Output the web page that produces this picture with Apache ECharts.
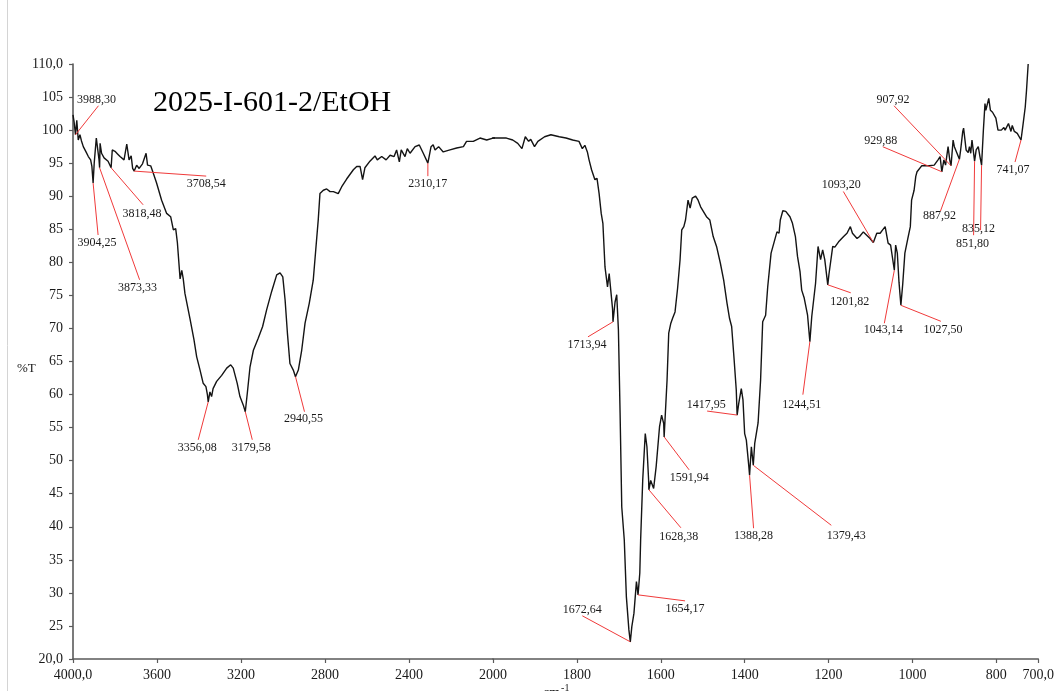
<!DOCTYPE html>
<html>
<head>
<meta charset="utf-8">
<title>2025-I-601-2/EtOH IR spectrum</title>
<script src="https://cdn.jsdelivr.net/npm/echarts@6/dist/echarts.min.js"></script>
<style>
  html, body { margin: 0; padding: 0; background: #fff; }
  #chart { width: 1057px; height: 691px; }
</style>
</head>
<body>
<div id="chart"></div>
<script>
// Sample name shown on the plot
const sampleName = '2025-I-601-2/EtOH';

// Axis ticks (wavenumber scale doubles below 2000 cm-1)
const xTicksHigh = [4000, 3600, 3200, 2800, 2400, 2000];
const xTicksLow = [1800, 1600, 1400, 1200, 1000, 800, 700];
const yTicks = [20, 25, 30, 35, 40, 45, 50, 55, 60, 65, 70, 75, 80, 85, 90, 95, 100, 105, 110];

// Transmittance trace: [wavenumber cm-1, %T]
const trace = [
  [4000, 102.3], [3995, 101.3], [3982, 101.5], [3975, 98.5], [3967, 99.3], [3960, 98.4],
  [3951, 97.5], [3938, 96.7], [3927, 96.0], [3916, 95.5], [3910, 94.5], [3899, 95.0],
  [3889, 98.8], [3882, 97.0], [3876, 95.5], [3871, 98.0], [3864, 96.5], [3852, 95.8],
  [3843, 96.0], [3833, 95.3], [3813, 97.0], [3800, 96.8], [3788, 96.4], [3776, 96.0],
  [3757, 95.5], [3744, 97.9], [3733, 95.5], [3723, 96.1], [3716, 94.2], [3697, 94.7],
  [3685, 94.2], [3669, 94.9], [3652, 96.5], [3645, 94.7], [3630, 94.6], [3618, 93.5],
  [3602, 92.0], [3578, 89.4], [3554, 87.4], [3535, 86.9], [3522, 84.9], [3511, 85.1],
  [3503, 83.0], [3490, 77.5], [3482, 78.8], [3475, 77.5], [3467, 75.3], [3443, 71.5],
  [3424, 68.3], [3411, 65.7], [3395, 63.7], [3380, 61.7], [3367, 61.2], [3360, 60.0],
  [3348, 60.4], [3340, 59.7], [3333, 60.9], [3316, 62.0], [3292, 62.9], [3268, 64.0],
  [3249, 64.5], [3237, 64.0], [3218, 61.7], [3205, 59.7], [3189, 58.4], [3170, 60.2],
  [3157, 64.2], [3141, 66.7], [3118, 68.5], [3097, 70.3], [3078, 72.8], [3054, 75.6],
  [3030, 78.1], [3014, 78.4], [3001, 77.8], [2990, 74.3], [2979, 69.3], [2967, 64.7],
  [2951, 63.7], [2927, 63.7], [2911, 66.7], [2895, 70.8], [2875, 73.8], [2870, 73.5],
  [2856, 77.3], [2844, 81.9], [2832, 86.5], [2824, 90.4], [2808, 90.9], [2792, 91.1],
  [2776, 90.7], [2760, 90.7], [2737, 90.4], [2721, 91.4], [2697, 92.6], [2665, 94.0],
  [2649, 94.5], [2633, 94.5], [2621, 92.5], [2610, 94.3], [2586, 95.3], [2562, 96.1],
  [2551, 95.5], [2530, 96.0], [2509, 95.5], [2490, 96.2], [2471, 96.0], [2459, 97.0],
  [2446, 95.2], [2437, 97.0], [2419, 96.0], [2408, 97.2], [2395, 96.5], [2371, 97.5],
  [2351, 97.75], [2332, 96.5], [2295, 97.5], [2285, 97.8], [2276, 97.0], [2259, 97.5],
  [2237, 96.7], [2205, 97.0], [2173, 97.3], [2141, 97.5], [2126, 98.3], [2094, 98.3],
  [2062, 98.8], [2030, 98.5], [2000, 98.8], [1984, 98.8], [1968, 98.8], [1953, 98.5],
  [1941, 98.0], [1931, 97.2], [1923, 99.0], [1915, 98.3], [1910, 98.6], [1901, 97.5],
  [1893, 98.3], [1877, 99.0], [1862, 99.3], [1842, 99.0], [1826, 98.8], [1810, 98.5],
  [1795, 98.3], [1787, 97.2], [1781, 97.7], [1775, 96.7], [1771, 95.5], [1765, 94.0],
  [1762, 94.0], [1757, 92.5], [1752, 92.7], [1747, 90.4], [1742, 87.4], [1738, 85.9],
  [1733, 79.3], [1727, 76.3], [1723, 78.3], [1719, 78.3], [1715, 73.0], [1709, 74.0],
  [1705, 75.1], [1701, 69.8], [1697, 57.2], [1693, 43.0], [1687, 38.0], [1682, 29.4],
  [1676, 24.4], [1669, 24.9], [1664, 26.9], [1658, 31.7], [1650, 33.0], [1648, 38.0],
  [1643, 47.1], [1637, 54.1], [1633, 52.1], [1629, 47.1], [1624, 47.0], [1621, 46.8],
  [1617, 45.8], [1611, 49.1], [1603, 55.1], [1598, 56.9], [1593, 55.6], [1585, 62.2],
  [1581, 69.3], [1576, 70.8], [1572, 71.5], [1566, 72.5], [1560, 76.0], [1554, 80.4],
  [1550, 84.9], [1545, 85.4], [1541, 86.4], [1535, 89.4], [1530, 88.2], [1525, 89.7],
  [1517, 90.0], [1511, 89.4], [1505, 88.4], [1501, 88.3], [1491, 86.9], [1483, 86.4],
  [1475, 83.9], [1467, 82.4], [1458, 79.9], [1450, 77.3], [1442, 73.8], [1436, 71.5],
  [1431, 70.3], [1425, 65.2], [1420, 60.7], [1414, 58.7], [1408, 60.9], [1404, 59.2],
  [1400, 54.1], [1396, 53.1], [1390, 49.1], [1384, 52.1], [1376, 52.6], [1368, 55.7],
  [1362, 62.2], [1357, 71.0], [1353, 70.8], [1350, 72.0], [1345, 76.3], [1337, 81.4],
  [1334, 81.6], [1323, 84.6], [1318, 84.4], [1315, 86.4], [1309, 87.8], [1302, 87.7],
  [1299, 87.8], [1292, 86.9], [1286, 85.9], [1279, 83.9], [1274, 80.9], [1268, 78.6],
  [1264, 75.8], [1258, 74.6], [1254, 74.8], [1250, 72.0], [1240, 71.8], [1236, 71.5],
  [1231, 76.8], [1225, 82.4], [1219, 80.4], [1214, 81.9], [1209, 80.4], [1199, 78.2],
  [1190, 82.4], [1185, 82.3], [1176, 83.1], [1164, 83.9], [1156, 84.4], [1148, 85.4],
  [1143, 84.4], [1132, 83.6], [1126, 83.9], [1117, 84.6], [1109, 84.1], [1101, 83.6],
  [1085, 84.4], [1077, 84.4], [1071, 84.9], [1065, 85.4], [1058, 82.9], [1052, 82.6],
  [1040, 82.6], [1036, 81.4], [1032, 77.0], [1023, 76.8], [1018, 81.4], [1011, 83.6],
  [1005, 85.4], [1002, 89.4], [996, 90.9], [992, 93.0], [989, 93.7], [978, 94.6],
  [960, 94.6], [948, 94.7], [939, 95.5], [934, 96.0], [925, 95.5], [921, 94.7],
  [915, 97.5], [911, 95.5], [903, 98.5], [900, 97.5], [897, 97.7], [885, 97.0],
  [880, 99.8], [878, 100.3], [872, 97.0], [867, 96.6], [864, 97.5], [861, 96.5],
  [858, 98.5], [848, 97.0], [843, 97.5], [839, 96.0], [831, 99.8], [827, 104.0],
  [825, 103.0], [823, 103.5], [818, 104.8], [814, 103.0], [809, 102.7], [801, 101.8],
  [796, 100.0], [788, 100.0], [782, 100.4], [779, 100.0], [771, 101.0], [765, 99.8],
  [762, 100.7], [757, 99.8], [750, 99.5], [737, 100.5], [731, 103.5], [728, 106.0],
  [724, 110.0]
];

// Picked bands: [wavenumber cm-1, %T]
const peaks = [
  [3988.30, 99.3], [3904.25, 92.0], [3873.33, 94.3], [3818.48, 94.3], [3708.54, 93.8],
  [3356.08, 58.9], [3179.58, 57.4], [2940.55, 62.7], [2310.17, 95.0],
  [1713.94, 71.0], [1672.64, 22.6], [1654.17, 29.7], [1628.38, 45.6], [1591.94, 53.6],
  [1417.95, 56.9], [1388.28, 47.8], [1379.43, 49.3], [1244.51, 68.0], [1201.82, 76.6],
  [1093.20, 83.0], [1043.14, 78.8], [1027.50, 73.5], [929.88, 93.7], [907.92, 94.6],
  [887.92, 95.6], [851.80, 95.3], [835.12, 94.7], [741.07, 98.5]
];

// Callout geometry per band, in pixels from the band point:
// [leader end dx, leader end dy, label dx, label dy]
const calloutLayout = [
  [23, -29, 21, -35], [5, 52, 4, 60], [40, 112, 38, 120], [32, 37, 31, 46], [72, 5, 72, 13],
  [-10, 38, -11, 46], [7, 28, 6, 36], [9, 35, 8, 42], [0, 13, 0, 21],
  [-25, 15, -26, 23], [-48, -26, -48, -32], [47, 6, 47, 14], [32, 38, 30, 47], [25, 33, 25, 41],
  [-30, -4, -31, -10], [4, 53, 4, 61], [78, 60, 93, 71], [-7, 53, -8, 63], [23, 8, 22, 17],
  [-30, -51, -32, -58], [-10, 53, -11, 60], [40, 16, 42, 25], [-59, -25, -61, -31], [-57, -60, -58, -66],
  [-19, 52, -20, 57], [-1, 74, -2, 83], [-1, 65, -3, 64], [-6, 22, -8, 30]
];

// Full spectrum = trace with the picked band points merged in, high to low wavenumber
const spectrum = trace.concat(peaks).sort((a, b) => b[0] - a[0]);

const SERIF = "'Liberation Serif', 'Times New Roman', serif";
const AXIS_COLOR = '#5a5a5a';

const fmtComma = (v, d) => v.toFixed(d).replace('.', ',');

function yLabel(v) {
  if (v === 110 || v === 20) return fmtComma(v, 1);
  return String(v);
}
function xLabel(v) {
  if (v === 4000 || v === 700) return fmtComma(v, 1);
  return String(v);
}

const peakItems = peaks.map((p, i) => [p[0], p[1], i]);

function calloutRenderer(params, api) {
  const i = api.value(2);
  const pt = api.coord([api.value(0), api.value(1)]);
  const L = calloutLayout[i];
  return {
    type: 'group',
    children: [
      {
        type: 'line',
        shape: { x1: pt[0], y1: pt[1], x2: pt[0] + L[0], y2: pt[1] + L[1] },
        style: { stroke: '#f03a3a', lineWidth: 1 }
      },
      {
        type: 'text',
        x: pt[0] + L[2],
        y: pt[1] + L[3],
        style: {
          text: fmtComma(peaks[i][0], 2),
          font: '12px ' + SERIF,
          fill: '#1a1a1a',
          align: 'center',
          verticalAlign: 'middle'
        }
      }
    ]
  };
}

const GRID_TOP = 64, GRID_H = 595;

const chart = echarts.init(document.getElementById('chart'), null, { renderer: 'canvas' });
chart.setOption({
  animation: false,
  backgroundColor: '#ffffff',
  grid: [
    { left: 73, top: GRID_TOP, width: 420, height: GRID_H },
    { left: 493, top: GRID_TOP, width: 551, height: GRID_H }
  ],
  xAxis: [
    {
      type: 'value', gridIndex: 0, min: 2000, max: 4000, interval: 400, inverse: true,
      axisLine: { lineStyle: { color: AXIS_COLOR, width: 1.6 } },
      axisTick: { length: 4, lineStyle: { color: AXIS_COLOR, width: 1.2 } },
      axisLabel: {
        customValues: xTicksHigh,
        formatter: xLabel, margin: 9, color: '#1a1a1a', fontSize: 14, fontFamily: SERIF
      },
      splitLine: { show: false }
    },
    {
      type: 'value', gridIndex: 1, min: 700, max: 2000, inverse: true,
      axisLine: { lineStyle: { color: AXIS_COLOR, width: 1.6 } },
      axisTick: { length: 4, customValues: xTicksLow, lineStyle: { color: AXIS_COLOR, width: 1.2 } },
      axisLabel: {
        customValues: xTicksLow,
        formatter: xLabel, margin: 9, color: '#1a1a1a', fontSize: 14, fontFamily: SERIF,
        showMinLabel: true, showMaxLabel: true
      },
      splitLine: { show: false }
    }
  ],
  yAxis: [
    {
      type: 'value', gridIndex: 0, min: 20, max: 110, interval: 5,
      axisLine: { show: true, lineStyle: { color: AXIS_COLOR, width: 1.6 } },
      axisTick: { show: true, length: 4, lineStyle: { color: AXIS_COLOR, width: 1.2 } },
      axisLabel: {
        customValues: yTicks,
        formatter: yLabel, margin: 10, color: '#1a1a1a', fontSize: 14, fontFamily: SERIF
      },
      splitLine: { show: false }
    },
    {
      type: 'value', gridIndex: 1, min: 20, max: 110, interval: 5, show: false
    }
  ],
  series: [
    {
      type: 'line', xAxisIndex: 0, yAxisIndex: 0, data: spectrum,
      showSymbol: false, clip: true, silent: true,
      lineStyle: { color: '#141414', width: 1.4 }
    },
    {
      type: 'line', xAxisIndex: 1, yAxisIndex: 1, data: spectrum,
      showSymbol: false, clip: true, silent: true,
      lineStyle: { color: '#141414', width: 1.4 }
    },
    {
      type: 'custom', xAxisIndex: 0, yAxisIndex: 0, silent: true,
      data: peakItems.filter(d => d[0] >= 2000),
      renderItem: calloutRenderer, z: 5
    },
    {
      type: 'custom', xAxisIndex: 1, yAxisIndex: 1, silent: true,
      data: peakItems.filter(d => d[0] < 2000),
      renderItem: calloutRenderer, z: 5
    }
  ],
  graphic: [
    {
      type: 'line', silent: true,
      shape: { x1: 7.5, y1: 0, x2: 7.5, y2: 691 },
      style: { stroke: '#d4d4d4', lineWidth: 1 }
    },
    {
      type: 'text', left: 153, top: 88, silent: true,
      style: { text: sampleName, font: '30px ' + SERIF, fill: '#000' }
    },
    {
      type: 'text', left: 17, top: 362, silent: true,
      style: { text: '%T', font: '13px ' + SERIF, fill: '#1a1a1a' }
    },
    {
      type: 'text', left: 543, top: 683, silent: true,
      style: {
        text: '{b|cm}{s|-1}',
        rich: {
          b: { font: '14px ' + SERIF, fill: '#1a1a1a', padding: [5, 0, 0, 0] },
          s: { font: '10px ' + SERIF, fill: '#1a1a1a', padding: [0, 0, 6, 1] }
        }
      }
    }
  ]
});
</script>
</body>
</html>
